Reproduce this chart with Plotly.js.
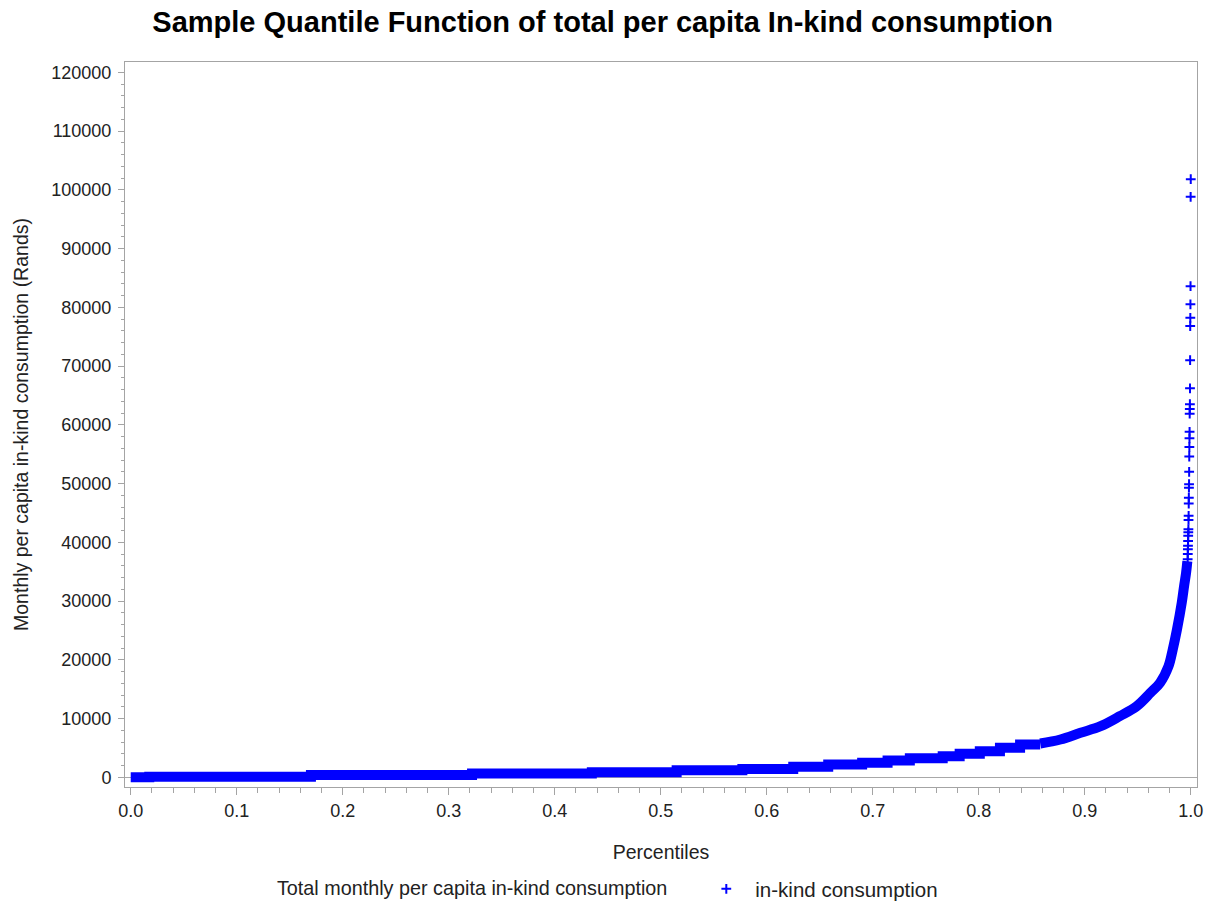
<!DOCTYPE html>
<html>
<head>
<meta charset="utf-8">
<script src="https://cdn.plot.ly/plotly-3.0.1.min.js"></script>
<style>
  html, body { margin: 0; padding: 0; background: #ffffff; }
  #chart { width: 1209px; height: 902px; }
</style>
</head>
<body>
<div id="chart"></div>
<script>
// Sample quantile function of monthly per capita in-kind consumption (Rands).
// Lower part: discrete values, each held over a run of percentiles (step starts).
const stepPct = [0.000, 0.0175, 0.170, 0.322, 0.435, 0.515, 0.577, 0.625, 0.658, 0.690,
                 0.714, 0.735, 0.766, 0.782, 0.801, 0.820, 0.839, 0.858];
const stepVal = [0, 100, 390, 650, 870, 1190, 1430, 1790, 2180, 2470,
                 2860, 3250, 3590, 4000, 4440, 5020, 5580, 5580];

// Upper part: dense, fast-rising quantiles
const curvePct = [0.858, 0.877, 0.896, 0.915, 0.933, 0.949, 0.962, 0.971, 0.979, 0.983,
                  0.987, 0.9915, 0.9937, 0.9956, 0.9968];
const curveVal = [5750, 6430, 7570, 8700, 10400, 12100, 14380, 16090, 18910, 21750,
                  25160, 29700, 32530, 34810, 36780];

// Largest individual observations
const tailPct = [0.9971, 0.9972, 0.9973, 0.9974, 0.9975, 0.9976, 0.9977, 0.9978, 0.9979, 0.9980,
                 0.9981, 0.9982, 0.9983, 0.9984, 0.9985, 0.9986, 0.9987, 0.9988, 0.9989, 0.9990,
                 0.9991, 0.9992, 0.9993, 0.9994, 0.9995, 0.9996, 0.9997, 0.9998, 0.9999, 1.0000];
const tailVal = [37100, 38000, 38800, 39400, 40200, 41100, 41700, 42200, 43800, 44500,
                 46600, 47600, 49300, 49900, 52000, 54600, 56200, 57700, 58800, 61900,
                 62700, 63500, 66200, 71000, 76800, 78200, 80500, 83600, 98800, 101800];

const seriesName = 'in-kind consumption';
const legendTitle = 'Total monthly per capita in-kind consumption';
const chartTitle = 'Sample Quantile Function of total per capita In-kind consumption';
const xTitle = 'Percentiles';
const yTitle = 'Monthly per capita in-kind consumption (Rands)';

const blue = '#0000ff';
const axisGray = '#a4a4a4';
const fontFamily = '"Liberation Sans", Arial, Helvetica, sans-serif';

const traces = [
  {
    x: stepPct, y: stepVal, type: 'scatter', mode: 'lines',
    line: { color: blue, width: 10, shape: 'hv' },
    showlegend: false, hoverinfo: 'skip'
  },
  {
    x: curvePct, y: curveVal, type: 'scatter', mode: 'lines',
    line: { color: blue, width: 10, shape: 'spline', smoothing: 1 },
    showlegend: false, hoverinfo: 'skip'
  },
  {
    x: tailPct, y: tailVal, type: 'scatter', mode: 'markers', name: seriesName,
    marker: { symbol: 'cross-thin', size: 7, color: blue, line: { color: blue, width: 2 } }
  }
];

const axisCommon = {
  ticks: 'outside', ticklen: 7, tickwidth: 1, tickcolor: axisGray,
  showline: true, linecolor: axisGray, linewidth: 1, mirror: true,
  showgrid: false,
  tickfont: { size: 18, color: '#222' }
};

const layout = {
  width: 1209, height: 902,
  margin: { l: 125, r: 12, t: 62, b: 115 },
  paper_bgcolor: '#ffffff', plot_bgcolor: '#ffffff',
  font: { family: fontFamily, size: 19, color: '#222' },
  title: {
    text: chartTitle,
    font: { family: fontFamily, size: 29, weight: 'bold', color: '#000' },
    x: 0.4985, xref: 'container', xanchor: 'center',
    y: 1 - 22 / 902, yref: 'container', yanchor: 'middle'
  },
  xaxis: Object.assign({}, axisCommon, {
    range: [-0.0054, 1.0059], tick0: 0, dtick: 0.1, tickformat: '.1f',
    zeroline: false,
    minor: { dtick: 0.02, ticks: 'outside', ticklen: 4.5, tickcolor: axisGray, showgrid: false },
    title: { text: xTitle, font: { size: 19.5, color: '#222' }, standoff: 25 }
  }),
  yaxis: Object.assign({}, axisCommon, {
    range: [-1650, 121750], tick0: 0, dtick: 10000, tickformat: 'd',
    ticklen: 6, ticklabelstandoff: 3,
    zeroline: true, zerolinecolor: '#a8a8a8', zerolinewidth: 1.5,
    minor: { dtick: 2000, ticks: 'outside', ticklen: 3.5, tickcolor: axisGray, showgrid: false },
    title: { text: yTitle, font: { size: 19.5, color: '#222' }, standoff: 17 }
  }),
  showlegend: true,
  legend: {
    orientation: 'h',
    x: 0.5037, xref: 'container', xanchor: 'center',
    y: 1 - 889 / 902, yref: 'container', yanchor: 'middle',
    itemwidth: 48,
    title: { text: legendTitle + '\u00a0\u00a0\u00a0\u00a0', side: 'left', font: { size: 19.8, color: '#222' } },
    font: { size: 20.5, color: '#222' },
    bgcolor: 'rgba(0,0,0,0)'
  }
};

Plotly.newPlot('chart', traces, layout, { staticPlot: true, displayModeBar: false });
</script>
</body>
</html>
